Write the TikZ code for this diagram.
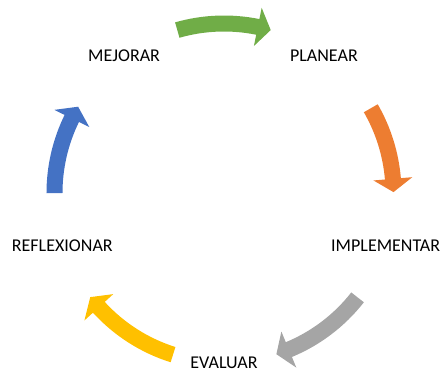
\documentclass[tikz,border=0pt]{standalone}
\usepackage{fontspec}
\setmainfont{Carlito}
\usepackage{tikz}
\usetikzlibrary{positioning}
\definecolor{planGreen}{RGB}{112,173,71}
\definecolor{implOrange}{RGB}{237,125,49}
\definecolor{evalGray}{RGB}{165,165,165}
\definecolor{reflYellow}{RGB}{255,192,0}
\definecolor{mejBlue}{RGB}{68,114,196}

\begin{document}
\begin{tikzpicture}[x=0.5pt, y=0.5pt, font=\fontsize{9}{11}\selectfont]
    \useasboundingbox (-224,-178) rectangle (223,193);
    % Stage labels on the cycle
    \node (mejorar) at (126:170) {MEJORAR};
    \node (planear) at (54:170) {PLANEAR};
    \node (implementar) at (-18:170) {IMPLEMENTAR};
    \node (evaluar) at (-90:170) {EVALUAR};
    \node (reflexionar) at (-162:170) {REFLEXIONAR};
    % Block arrows, clockwise
    \fill[planGreen] (106:177.5) arc[start angle=106, end angle=78.5, radius=177.5] -- (78.5:189) -- (74:169.5) -- (78.5:150) -- (78.5:161.5) arc[start angle=78.5, end angle=106, radius=161.5] -- cycle;
    \fill[implOrange] (30:177.5) arc[start angle=30, end angle=4.8, radius=177.5] -- (4.8:189) -- (0.3:169.5) -- (4.8:150) -- (4.8:161.5) arc[start angle=4.8, end angle=30, radius=161.5] -- cycle;
    \fill[evalGray] (-38:177.5) arc[start angle=-38, end angle=-67.5, radius=177.5] -- (-67.5:189) -- (-72:169.5) -- (-67.5:150) -- (-67.5:161.5) arc[start angle=-67.5, end angle=-38, radius=161.5] -- cycle;
    \fill[reflYellow] (-107.5:177.5) arc[start angle=-107.5, end angle=-137.6, radius=177.5] -- (-137.6:189) -- (-142.1:169.5) -- (-137.6:150) -- (-137.6:161.5) arc[start angle=-137.6, end angle=-107.5, radius=161.5] -- cycle;
    \fill[mejBlue] (180:177.5) arc[start angle=180, end angle=153.9, radius=177.5] -- (153.9:189) -- (149.4:169.5) -- (153.9:150) -- (153.9:161.5) arc[start angle=153.9, end angle=180, radius=161.5] -- cycle;
  \end{tikzpicture}
\end{document}
